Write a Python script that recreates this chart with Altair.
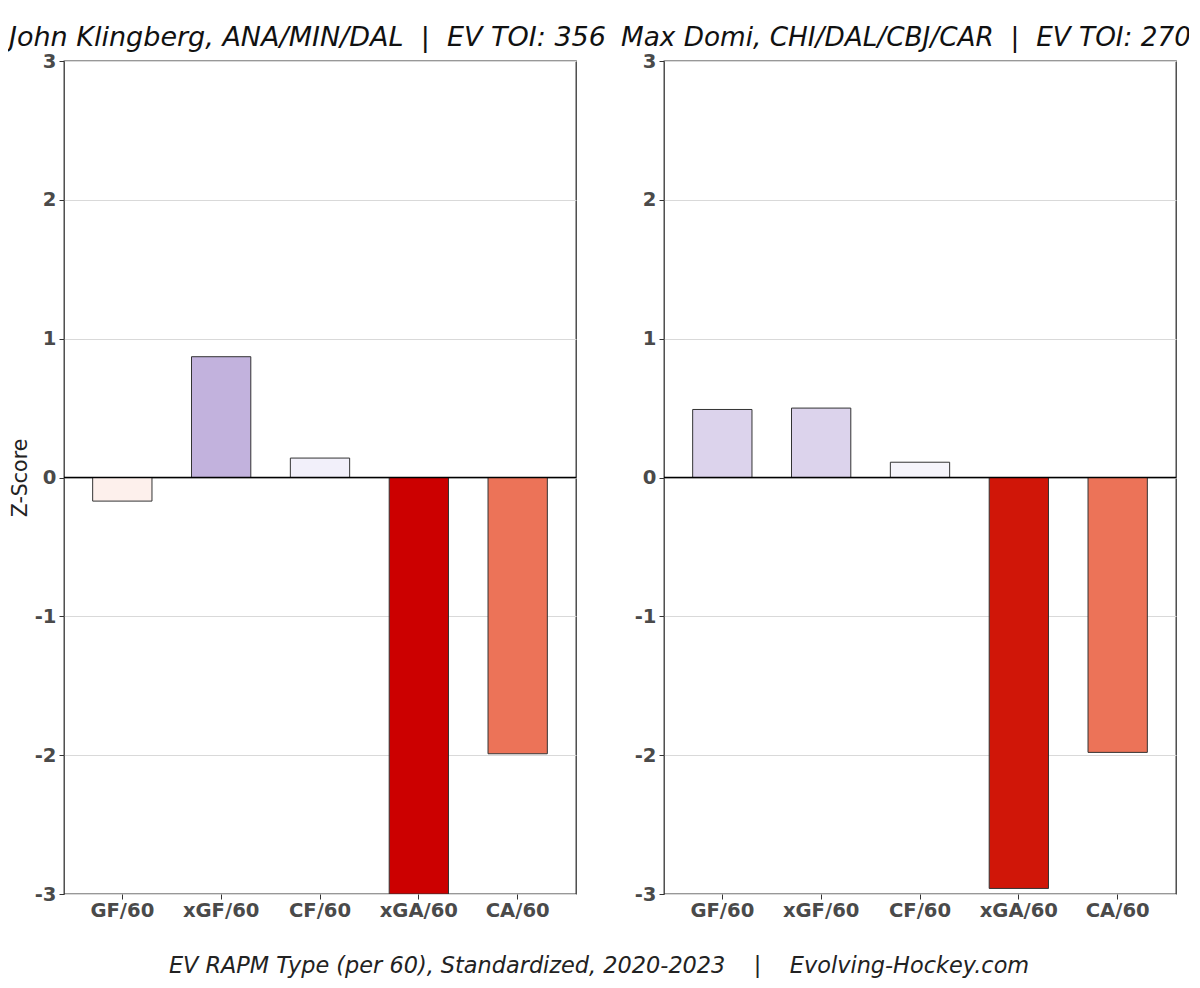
import altair as alt
import pandas as pd

NB = "\u00a0"

metrics = ["GF/60", "xGF/60", "CF/60", "xGA/60", "CA/60"]

left_title = "John Klingberg, ANA/MIN/DAL  |  EV TOI: 356"
left_values = [-0.17, 0.87, 0.14, -3.0, -1.99]
left_colors = ["#fdf0ec", "#c2b2dd", "#f2f0fa", "#cc0000", "#ec7358"]

right_title = "Max Domi, CHI/DAL/CBJ/CAR  |  EV TOI: 270"
right_values = [0.49, 0.50, 0.11, -2.96, -1.98]
right_colors = ["#dcd3ec", "#dcd3ec", "#f6f5fb", "#d01608", "#ec7358"]

y_ticks = [-3, -2, -1, 0, 1, 2, 3]
footer = "EV RAPM Type (per 60), Standardized, 2020-2023    |    Evolving-Hockey.com"

FONT = "DejaVu Sans"


def keep_spaces(s):
    return s.replace(" ", NB)


def panel(title, values, colors, show_ylabel, title_size):
    df = pd.DataFrame({"metric": metrics, "value": values, "color": colors})
    x = alt.X(
        "metric:N",
        sort=metrics,
        scale=alt.Scale(paddingInner=0.4, paddingOuter=0.29),
        axis=alt.Axis(
            title=None, labelAngle=0, labelFont=FONT, labelFontSize=19.6,
            labelFontWeight="bold", labelColor="#4a4a4a", tickSize=5,
            tickColor="#333333", labelPadding=2, domain=False, grid=False,
        ),
    )
    y = alt.Y(
        "value:Q",
        scale=alt.Scale(domain=[-3, 3], nice=False, clamp=True),
        axis=alt.Axis(
            values=y_ticks, labelExpr="'' + datum.value",
            title="Z-Score" if show_ylabel else None,
            titleFont=FONT, titleFontSize=20.5, titleFontWeight="normal",
            titleColor="#222222", titlePadding=4,
            labelFont=FONT, labelFontSize=19.6, labelFontWeight="bold",
            labelColor="#4a4a4a", tickSize=5, tickColor="#333333",
            labelPadding=3, domain=False, grid=True, gridColor="#d9d9d9",
            gridWidth=1,
        ),
    )
    bars = alt.Chart(df).mark_bar(
        stroke="#333333", strokeWidth=1, clip=True
    ).encode(
        x=x, y=y, y2=alt.datum(0), color=alt.Color("color:N", scale=None)
    )
    zero = alt.Chart(pd.DataFrame({"z": [0]})).mark_rule(
        color="#000000", strokeWidth=1.3
    ).encode(y=alt.Y("z:Q", scale=alt.Scale(domain=[-3, 3], nice=False)))
    return alt.layer(bars, zero).properties(
        width=512, height=833,
        title=alt.TitleParams(
            keep_spaces(title), anchor="start", frame="group",
            dx=-55 if show_ylabel else -43,
            offset=-21.5, baseline="alphabetic", font=FONT, fontSize=title_size,
            fontStyle="italic", fontWeight="normal", color="#111111",
        ),
    )


left = panel(left_title, left_values, left_colors, True, 27)
right = panel(right_title, right_values, right_colors, False, 26.3)

chart = alt.hconcat(left, right, spacing=88, bounds="flush").properties(
    title=alt.TitleParams(
        keep_spaces(footer), orient="bottom", anchor="middle", font=FONT,
        fontSize=22.4, fontStyle="italic", fontWeight="normal",
        color="#222222", offset=35, dx=-1,
    ),
    padding={"left": 0, "top": 14, "right": -3, "bottom": 0},
    background="white",
).configure_view(
    stroke="#333333", strokeWidth=1.3
)

chart.save("out.html", embed_options={"renderer": "svg", "actions": False})
